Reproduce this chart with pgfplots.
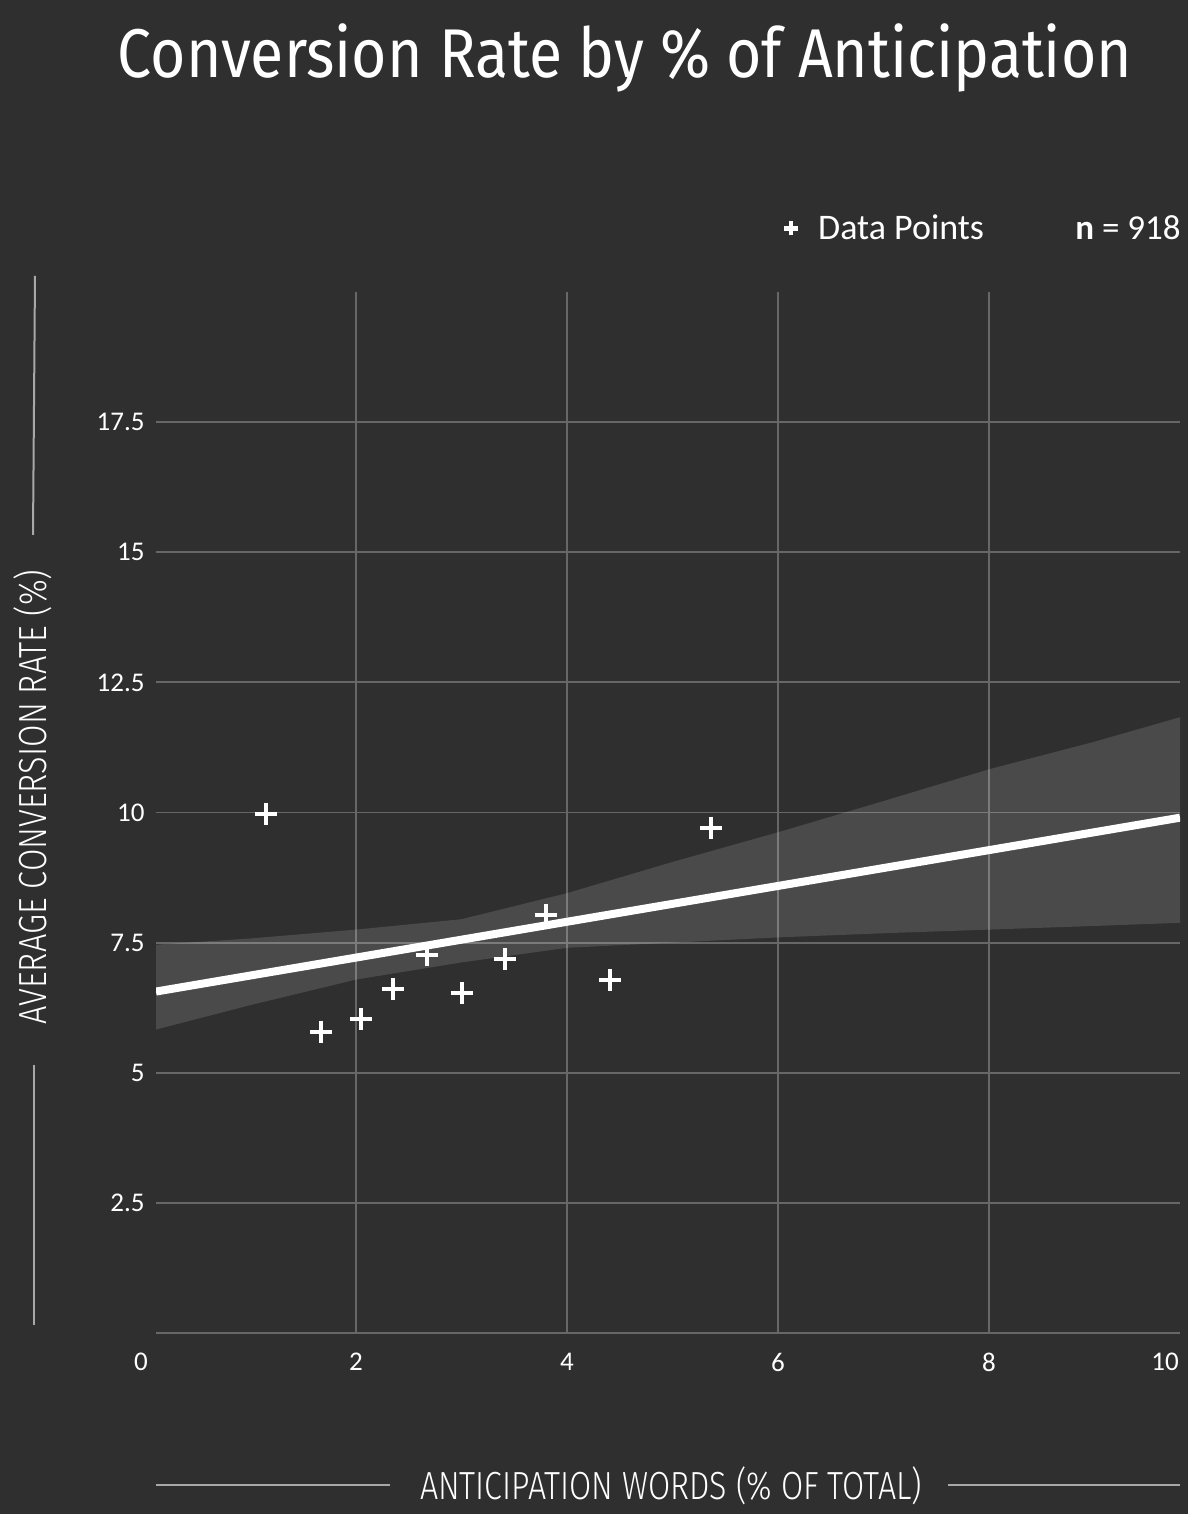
\documentclass[border=0pt]{standalone}
\usepackage{pgfplots}
\pgfplotsset{compat=1.18}
\usepackage{graphicx}
\usepackage{fontspec}
\setmainfont{Carlito}
\newfontfamily\titlefont{Fira Sans}
\newfontfamily\lightfont{Fira Sans Light}
\definecolor{bg}{HTML}{2F2F2F}
\definecolor{gridc}{HTML}{676767}
\definecolor{deco}{HTML}{A8A8A8}
\begin{document}
\begin{tikzpicture}
\begin{scope}[x=0.5pt,y=0.5pt]
\fill[bg] (0,0) rectangle (1188,1514);
\useasboundingbox (0,0) rectangle (1188,1514);
\end{scope}
\begin{axis}[
  at={(78pt,90.5pt)}, anchor=south west,
  scale only axis, width=512pt, height=520.5pt,
  xmin=0.104, xmax=9.81, ymin=0, ymax=20,
  axis line style={draw=none},
  major tick length=0pt,
  xtick={2,4,6,8},
  ytick={0,2.5,5,7.5,10,12.5,15,17.5},
  yticklabels={,2.5,5,7.5,10,12.5,15,17.5},
  grid=major,
  major grid style={gridc, line width=0.9pt},
  /pgf/number format/assume math mode=true,
  ticklabel style={text=white, font=\fontsize{13.5}{16}\selectfont},
  yticklabel style={inner sep=0pt, anchor=east, xshift=-5.5pt},
  xticklabel style={inner sep=0pt, anchor=north, yshift=-10pt},
  legend style={at={(0.613,1.061)}, anchor=west, draw=none, fill=none, text=white,
    font=\fontsize{18}{21}\selectfont, inner sep=0pt, nodes={inner sep=0pt}, column sep=10pt},
  legend cell align=left,
  legend image code/.code={\draw[#1, mark size=3.5pt, line width=2.2pt] plot coordinates {(0pt,0pt)};},
]
% confidence band (upper edge left to right, lower edge right to left)
\addplot[draw=none, fill=white, fill opacity=0.135, forget plot] coordinates {
 (0.104,7.46) (1,7.58) (2,7.75) (3,7.95) (4,8.45) (5,9.05) (6,9.62) (7,10.22) (8,10.83) (9,11.36) (9.81,11.83)
 (9.81,7.88) (9,7.82) (8,7.75) (7,7.68) (6,7.60) (5,7.50) (4,7.40) (3,7.12) (2,6.79) (1,6.30) (0.104,5.83)
} -- cycle;
% regression line
\addplot[white, line width=4pt, forget plot] coordinates {(0.104,6.56) (9.81,9.90)};
% data points
\addplot[only marks, mark=+, mark size=5.5pt, white, line width=2pt] coordinates {
 (1.147,9.98) (1.668,5.78) (2.047,6.03) (2.35,6.60) (2.67,7.26)
 (3.00,6.53) (3.41,7.18) (3.80,8.04) (4.41,6.79) (5.36,9.71)
};
\addlegendentry{Data Points}
\end{axis}
\begin{scope}[x=0.5pt,y=0.5pt]
\node[text=white, anchor=base, inner sep=0pt] at (625,1436) {\resizebox{507pt}{\height}{\titlefont\fontsize{34.5}{40}\selectfont Conversion Rate by \% of Anticipation}};
\node[text=white, inner sep=0pt, font=\fontsize{13.5}{16}\selectfont] at (141,152) {0};
\node[text=white, inner sep=0pt, font=\fontsize{13.5}{16}\selectfont] at (1165,152) {10};
\node[text=white, anchor=east, inner sep=0pt, font=\fontsize{17.5}{20}\selectfont] at (1181,1286) {\textbf{n} = 918};
\node[text=white, anchor=base, inner sep=0pt] at (671,14) {\resizebox{251pt}{\height}{\lightfont\fontsize{19.6}{22}\selectfont ANTICIPATION WORDS (\% OF TOTAL)}};
\node[text=white, rotate=90, inner sep=0pt] at (33,717) {\resizebox{227.5pt}{\height}{\lightfont\fontsize{19.6}{22}\selectfont AVERAGE CONVERSION RATE (\%)}};
\draw[deco, line width=1pt] (156,29) -- (390,29);
\draw[deco, line width=1pt] (948,29) -- (1180,29);
\draw[deco, line width=1pt] (35,1238) -- (33,979);
\draw[deco, line width=1pt] (34,449) -- (34,189);
\end{scope}
\end{tikzpicture}
\end{document}
